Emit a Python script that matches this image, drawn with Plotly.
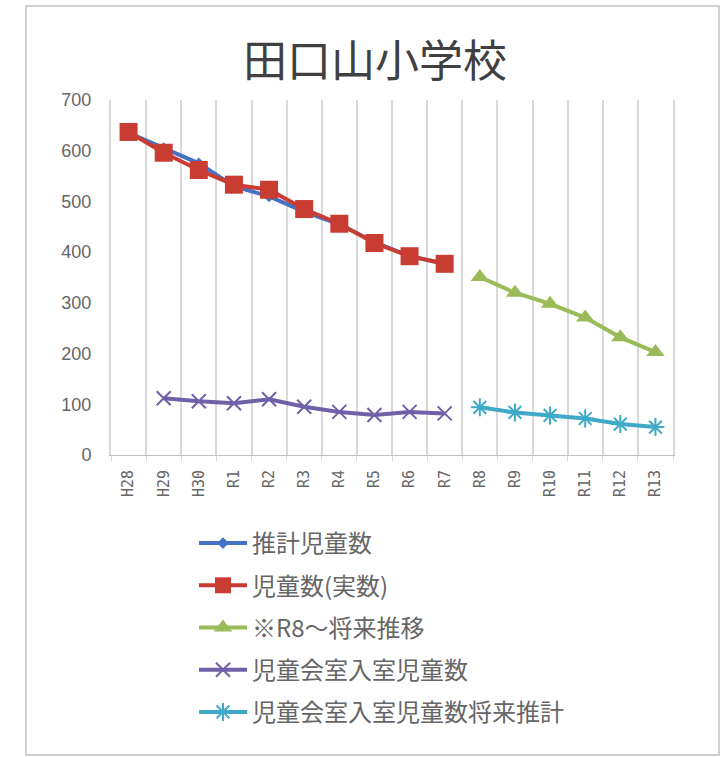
import plotly.graph_objects as go

categories = ["H28", "H29", "H30", "R1", "R2", "R3", "R4", "R5", "R6", "R7",
              "R8", "R9", "R10", "R11", "R12", "R13"]
est_children = [635, 605, 575, 530, 510, 480, 455, 420, 392, 377,
                None, None, None, None, None, None]
actual_children = [637, 596, 562, 533, 523, 485, 456, 418, 392, 377,
                   None, None, None, None, None, None]
future_children = [None, None, None, None, None, None, None, None, None, None,
                   351, 320, 298, 271, 232, 203]
club_children = [None, 112, 106, 102, 110, 95, 85, 79, 85, 82,
                 None, None, None, None, None, None]
club_future = [None, None, None, None, None, None, None, None, None, None,
               94, 84, 78, 72, 61, 55]

names = ["推計児童数", "児童数(実数)", "※R8～将来推移", "児童会室入室児童数", "児童会室入室児童数将来推計"]
colors = ["#4472C4", "#C83C32", "#9BBB59", "#7060A8", "#3FA9C8"]
symbols = ["diamond", "square", "triangle-up", "x-thin-open", "asterisk-open"]
sizes = [9, 18, 16, 14, 15]
series = [est_children, actual_children, future_children, club_children, club_future]

fig = go.Figure()
for i, (nm, col, sym, sz, ys) in enumerate(zip(names, colors, symbols, sizes, series)):
    marker = dict(color=col, size=sz, symbol=sym)
    if "open" in sym:
        marker["line"] = dict(color=col, width=2)
    fig.add_trace(go.Scatter(
        x=categories, y=ys, name=nm, mode="lines+markers",
        line=dict(color=col, width=4), marker=marker,
        connectgaps=False, legendgroup=f"g{i}",
    ))

W, H = 723, 757
L, R, T, B = 111, 50, 100, 302
pw, ph = W - L - R, H - T - B

def px(x):
    return (x - L) / pw

def py(y):
    return (H - B - y) / ph

fig.update_layout(
    width=W, height=H,
    margin=dict(l=L, r=R, t=T, b=B),
    paper_bgcolor="white", plot_bgcolor="white",
    font=dict(family="Noto Sans CJK JP", color="#595959"),
    title=dict(text="田口山小学校", x=(375) / W, xanchor="center",
               y=1 - 62 / H, yanchor="middle",
               font=dict(size=44, color="#404040", family="Noto Sans CJK JP")),
    xaxis=dict(
        type="category", tickson="boundaries", showgrid=True,
        range=[-0.5, len(categories) - 0.5],
        gridcolor="#D9D9D9", gridwidth=2,
        showline=True, linecolor="#BFBFBF", linewidth=1,
        ticks="outside", ticklen=5, tickcolor="#D9D9D9",
        tickangle=-90, tickfont=dict(size=15, color="#666666", family="DejaVu Sans Mono"),
        ticklabelstandoff=8,
    ),
    yaxis=dict(
        range=[0, 700], dtick=100, showgrid=False, zeroline=False,
        showline=True, mirror=True, linecolor="#D9D9D9", linewidth=2,
        ticks="", tickfont=dict(size=18, color="#666666", family="Liberation Sans"),
        ticklabelstandoff=14,
    ),
    showlegend=True,
    legend=dict(
        x=px(194), y=py(521), xanchor="left", yanchor="top",
        orientation="v", traceorder="grouped", tracegroupgap=8,
        font=dict(size=24, color="#666666", family="Noto Sans CJK JP"),
        bgcolor="rgba(0,0,0,0)", itemwidth=48,
    ),
    shapes=[dict(type="rect", xref="paper", yref="paper",
                 x0=px(26), x1=px(719), y0=py(755), y1=py(6),
                 line=dict(color="#D0D0D0", width=2), fillcolor="rgba(0,0,0,0)",
                 layer="below")],
)

fig.write_html(
    "out.html",
    config={"displayModeBar": False},
    post_script="document.body.style.margin='0';document.body.style.overflow='hidden';",
)
